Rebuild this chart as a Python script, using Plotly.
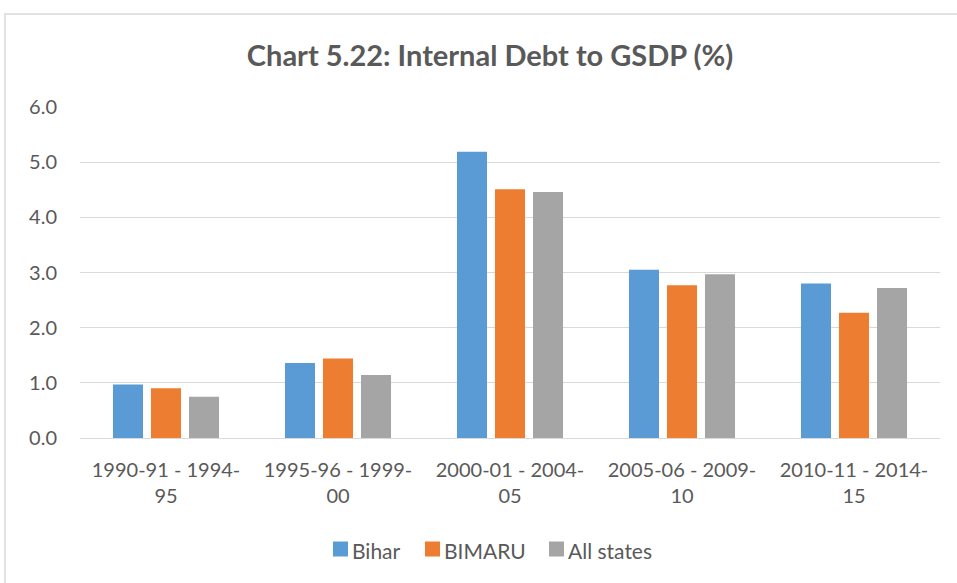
import plotly.graph_objects as go

categories = ["1990-91 - 1994-<br>95", "1995-96 - 1999-<br>00", "2000-01 - 2004-<br>05",
              "2005-06 - 2009-<br>10", "2010-11 - 2014-<br>15"]
bihar = [0.97, 1.36, 5.19, 3.05, 2.80]
bimaru = [0.90, 1.44, 4.51, 2.77, 2.27]
all_states = [0.75, 1.14, 4.46, 2.97, 2.72]

series_names = ["Bihar", "BIMARU", "All states"]
series_colors = ["#5B9BD5", "#ED7D31", "#A5A5A5"]

FONT = "Lato"
TEXT = "#595959"

fig = go.Figure()
for name, vals, col in zip(series_names, [bihar, bimaru, all_states], series_colors):
    fig.add_trace(go.Bar(name=name, x=categories, y=vals, marker_color=col,
                         marker_line_width=0, showlegend=False))

W, H = 957, 583
ml, mr, mt, mb = 80, 17, 107, 145
pw, ph = W - ml - mr, H - mt - mb


def px_x(p):
    return (p - ml) / pw


def px_y(p):
    return (H - mb - p) / ph


# legend row drawn as swatches + labels below the axis
legend_left = [333, 425, 549]
sw = 15
legend_y = 549
shapes = [dict(type="rect", xref="paper", yref="paper",
               x0=px_x(5), x1=px_x(1010), y0=px_y(640), y1=px_y(14),
               line=dict(color="#D9D9D9", width=1.5), fillcolor="rgba(0,0,0,0)",
               layer="below")]
annotations = []
for name, col, lx in zip(series_names, series_colors, legend_left):
    shapes.append(dict(type="rect", xref="paper", yref="paper",
                       x0=px_x(lx), x1=px_x(lx + sw),
                       y0=px_y(legend_y + sw / 2), y1=px_y(legend_y - sw / 2),
                       line=dict(width=0), fillcolor=col))
    annotations.append(dict(text=name, xref="paper", yref="paper",
                            x=px_x(lx + sw + 2), xanchor="left",
                            y=px_y(legend_y + 1), yanchor="middle", showarrow=False,
                            font=dict(family=FONT, size=21, color=TEXT)))

fig.update_layout(
    width=W, height=H,
    margin=dict(l=ml, r=mr, t=mt, b=mb),
    paper_bgcolor="white", plot_bgcolor="white",
    font=dict(family=FONT, color=TEXT, size=20),
    barmode="group", bargap=0.337, bargroupgap=0.21,
    showlegend=False,
    title=dict(text="<b>Chart 5.22: Internal Debt to GSDP (%)</b>",
               x=490 / W, xanchor="center", y=1 - 56 / H, yanchor="middle",
               font=dict(family=FONT, size=29, color=TEXT)),
    xaxis=dict(showgrid=False, showline=True, linecolor="#D9D9D9", linewidth=1.3,
               ticks="", tickfont=dict(size=20, color=TEXT), ticklabelstandoff=14),
    yaxis=dict(range=[0, 6], dtick=1, tickformat=".1f", showgrid=True,
               gridcolor="#D9D9D9", gridwidth=1.3, zeroline=False, showline=False,
               ticks="", tickfont=dict(size=20, color=TEXT), ticklabelstandoff=22),
    shapes=shapes,
    annotations=annotations,
)

fig.write_html("out.html")
